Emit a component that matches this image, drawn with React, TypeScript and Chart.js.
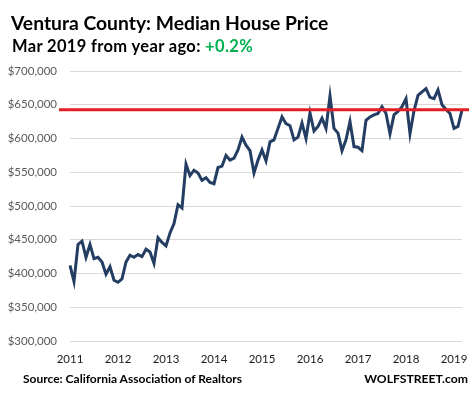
import React, { useEffect, useRef } from "react";
import { Chart, registerables } from "chart.js";

Chart.register(...registerables);

const years = [2011, 2012, 2013, 2014, 2015, 2016, 2017, 2018, 2019];
const monthsLastYear = 3;

const prices2011 = [412000, 388000, 443000, 448000, 424000, 443000, 422000, 424000, 417000, 399000, 410000, 390000];
const prices2012 = [387000, 392000, 417000, 427000, 424000, 428000, 425000, 436000, 432000, 415000, 453000, 446000];
const prices2013 = [441000, 460000, 474000, 502000, 497000, 562000, 545000, 553000, 549000, 538000, 542000, 535000];
const prices2014 = [533000, 557000, 559000, 575000, 568000, 571000, 583000, 602000, 590000, 582000, 549000, 568000];
const prices2015 = [583000, 567000, 595000, 598000, 615000, 632000, 622000, 619000, 598000, 602000, 623000, 600000];
const prices2016 = [638000, 611000, 618000, 630000, 615000, 663000, 615000, 608000, 582000, 598000, 625000, 588000];
const prices2017 = [587000, 582000, 627000, 632000, 635000, 637000, 647000, 637000, 607000, 635000, 640000, 647000];
const prices2018 = [659000, 607000, 641000, 664000, 669000, 674000, 661000, 659000, 672000, 650000, 643000, 637000];
const prices2019 = [615000, 618000, 642500];

const referenceValue = 642500;

const yMin = 300000;
const yMax = 700000;
const yStep = 50000;

const prices = [
  ...prices2011, ...prices2012, ...prices2013, ...prices2014, ...prices2015,
  ...prices2016, ...prices2017, ...prices2018, ...prices2019,
];

const labels: string[] = [];
years.forEach((y, i) => {
  const n = i === years.length - 1 ? monthsLastYear : 12;
  for (let m = 1; m <= n; m++) labels.push(`${y}-${m}`);
});

const FONT = "Lato, 'Open Sans', sans-serif";

const refLinePlugin = {
  id: "refLine",
  afterDatasetsDraw(chart: any) {
    const yScale = chart.scales.y;
    const y = yScale.getPixelForValue(referenceValue);
    const ctx = chart.ctx;
    ctx.save();
    ctx.strokeStyle = "#e31e24";
    ctx.lineWidth = 3;
    ctx.beginPath();
    ctx.moveTo(59, y);
    ctx.lineTo(469, y);
    ctx.stroke();
    ctx.restore();
  },
};

export default function App() {
  const canvasRef = useRef<HTMLCanvasElement | null>(null);

  useEffect(() => {
    if (!canvasRef.current) return;
    const chart = new Chart(canvasRef.current, {
      type: "line",
      data: {
        labels,
        datasets: [
          {
            data: prices,
            borderColor: "#243e63",
            borderWidth: 3,
            pointRadius: 0,
            tension: 0,
            fill: false,
          },
        ],
      },
      options: {
        responsive: false,
        animation: false,
        devicePixelRatio: 1,
        layout: { padding: { top: 71, left: 0, right: 12, bottom: 0 } },
        plugins: {
          legend: { display: false },
          tooltip: { enabled: false },
          title: { display: false },
        },
        scales: {
          x: {
            type: "category",
            offset: false,
            grid: { display: false, drawTicks: false },
            border: { display: false },
            ticks: {
              autoSkip: false,
              maxRotation: 0,
              minRotation: 0,
              padding: 11,
              color: "#1a1a1a",
              font: { family: FONT, size: 11.5 },
              callback: (_v: any, i: number) => {
                const l = labels[i];
                return l.endsWith("-1") ? l.split("-")[0] : "";
              },
            },
            afterFit: (scale: any) => {
              scale.height = 53;
            },
          },
          y: {
            min: yMin,
            max: yMax,
            grid: { color: "#d9d9d9", lineWidth: 1, drawTicks: false },
            border: { display: false },
            ticks: {
              stepSize: yStep,
              padding: 13,
              color: "#595959",
              font: { family: FONT, size: 11.5 },
              callback: (v: any) => "$" + Number(v).toLocaleString("en-US"),
            },
            afterFit: (scale: any) => {
              scale.width = 70;
            },
          },
        },
      },
      plugins: [refLinePlugin],
    });
    return () => chart.destroy();
  }, []);

  const textBase: React.CSSProperties = {
    position: "absolute",
    fontFamily: FONT,
    fontWeight: 700,
    whiteSpace: "nowrap",
    color: "#000",
    margin: 0,
  };

  return (
    <div style={{ position: "absolute", left: 0, top: 0, width: 474, height: 394, background: "#fff" }}>
      <canvas ref={canvasRef} width={474} height={394} style={{ position: "absolute", left: 0, top: 0 }} />
      <div style={{ ...textBase, left: 11, top: 10.5, fontSize: 19.3, lineHeight: 1.2 }}>
        Ventura County: Median House Price
      </div>
      <div style={{ ...textBase, left: 12, top: 37, fontSize: 16.5, lineHeight: 1.2, letterSpacing: 0.35 }}>
        Mar 2019 from year ago: <span style={{ color: "#00b050" }}>+0.2%</span>
      </div>
      <div style={{ ...textBase, left: 23, top: 371.5, fontSize: 12, lineHeight: 1.2 }}>
        Source: California Association of Realtors
      </div>
      <div style={{ ...textBase, right: 6, top: 371.5, fontSize: 12.2, lineHeight: 1.2 }}>
        WOLFSTREET.com
      </div>
    </div>
  );
}
